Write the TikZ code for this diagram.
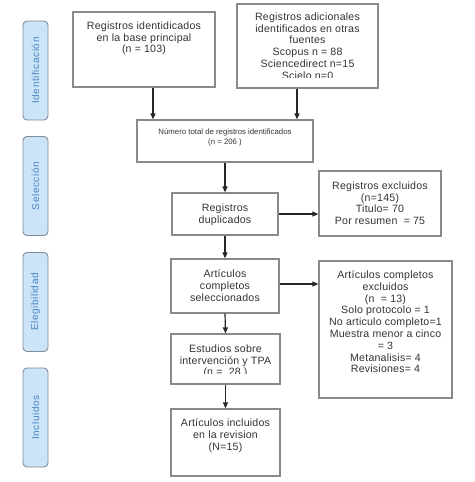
\documentclass[tikz,border=0pt]{standalone}
\usepackage{fontspec}
\setmainfont{Liberation Sans}
\usetikzlibrary{arrows.meta,calc}
\definecolor{txtc}{HTML}{333333}
\definecolor{boxc}{HTML}{8A8A8A}
\definecolor{sidefill}{HTML}{CCE4F7}
\definecolor{sidedraw}{HTML}{7F8C99}
\definecolor{sidetxt}{HTML}{4A86C5}
\tikzset{
  box/.style={draw=boxc, line width=1.2pt, fill=white, rectangle, inner sep=0pt},
  txt/.style={text=txtc, align=center, inner sep=0pt, anchor=north,
    font=\fontsize{10.6}{11.8}\selectfont\addfontfeature{LetterSpace=2}},
  smalltxt/.style={text=txtc, align=center, inner sep=0pt, anchor=north,
    font=\fontsize{7.8}{9.5}\selectfont},
  side/.style={draw=sidedraw, fill=sidefill, line width=0.9pt, rounded corners=4pt,
    minimum width=25pt, minimum height=99pt, inner sep=0pt},
  sidelab/.style={text=sidetxt, rotate=90, inner sep=0pt,
    font=\fontsize{10}{11}\selectfont\addfontfeature{LetterSpace=6}},
  arr/.style={draw=black!85, line width=1.2pt, -{Triangle[length=6pt,width=5pt]}}
}
\begin{document}
\begin{tikzpicture}[x=1pt,y=-1pt]
\useasboundingbox (0,0) rectangle (474,482);
% side labels
\node[side] (s1) at (35.5,70.5) {};
\node[sidelab] (l1) at (s1.center) {Identificación};
\node[side] (s2) at (35.5,186) {};
\node[sidelab] (l2) at (s2.center) {Selección};
\node[side] (s3) at (35.5,302) {};
\node[sidelab] (l3) at (s3.center) {Elegibilidad};
\node[side] (s4) at (35.5,417.5) {};
\node[sidelab] (l4) at (s4.center) {Incluidos};
% boxes
\node[box, minimum width=142pt, minimum height=75pt] (b1) at (144,49.5) {};
\node[txt] (t1) at (144,21.5) {Registros identidicados\\en la base principal\\(n = 103)};
\node[box, minimum width=141pt, minimum height=84pt] (b2) at (307.5,46) {};
\begin{scope}
\clip (237,4) rectangle (378,77.5);
\node[txt] (t2) at (307.5,12.5) {Registros adicionales\\identificados en otras\\fuentes\\Scopus n = 88\\Sciencedirect n=15\\Scielo n=0};
\end{scope}
\node[box, minimum width=176pt, minimum height=42pt] (b3) at (225,141) {};
\node[smalltxt] (t3) at (225,129) {Número total de registros identificados\\(n = 206 )};
\node[box, minimum width=106pt, minimum height=42pt] (b4) at (225,214) {};
\node[txt] (t4) at (225,203.5) {Registros\\duplicados};
\node[box, minimum width=122pt, minimum height=65pt] (b5) at (380,203.5) {};
\node[txt] (t5) at (380,181.5) {Registros excluidos\\(n=145)\\Titulo= 70\\Por resumen\ \ = 75};
\node[box, minimum width=108pt, minimum height=54pt] (b6) at (225,286) {};
\node[txt] (t6) at (225,269.5) {Artículos\\completos\\seleccionados};
\node[box, minimum width=133pt, minimum height=137pt] (b7) at (385.5,329.5) {};
\node[txt] (t7) at (385.5,270.5) {Artículos completos\\excluidos\\(n\ \ = 13)\\Solo protocolo = 1\\No articulo completo=1\\Muestra menor a cinco\\= 3\\Metanalisis= 4\\Revisiones= 4};
\node[box, minimum width=109pt, minimum height=50pt] (b8) at (225.5,359) {};
\begin{scope}
\clip (171,334) rectangle (280,373.5);
\node[txt] (t8) at (225.5,344.5) {Estudios sobre\\intervención y TPA\\(n =\ \ 28 )};
\end{scope}
\node[box, minimum width=109pt, minimum height=67pt] (b9) at (225.5,442.5) {};
\node[txt] (t9) at (225.5,418.5) {Artículos incluidos\\en la revision\\(N=15)};
% connectors
\draw[arr] (b1.south) ++(9,0) coordinate (a1) -- (a1 |- b3.north);
\draw[arr] (b2.south) ++(-10.5,0) coordinate (a2) -- (a2 |- b3.north);
\draw[arr] (b3.south) -- (b4.north);
\draw[arr] (b4.east) -- (b4.east -| b5.west);
\draw[arr] (b4.south) -- (b6.north);
\draw[arr] (b6.east) ++(0,-2) coordinate (a6) -- (a6 -| b7.west);
\draw[arr] (b6.south) -- (b8.north);
\draw[arr] (b8.south) -- (b9.north);
\end{tikzpicture}
\end{document}
